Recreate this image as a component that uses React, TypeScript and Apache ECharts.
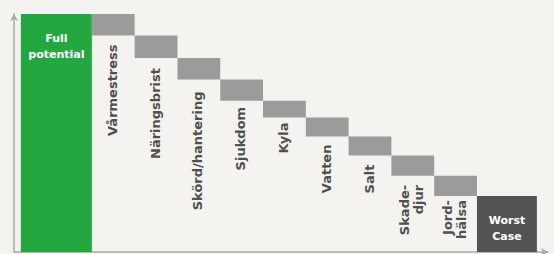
import React, { useEffect, useRef } from "react";
import * as echarts from "echarts";

// ---- data ----
const categories = [
  "Full\npotential",
  "Vårmestress",
  "Näringsbrist",
  "Skörd/hantering",
  "Sjukdom",
  "Kyla",
  "Vatten",
  "Salt",
  "Skade-\ndjur",
  "Jord-\nhälsa",
  "Worst\nCase",
];
const fullPotential = 100;
const losses = [9, 9.5, 9, 9, 7, 8, 8, 8.5, 8.5];

// ---- layout / style constants ----
const X_START = 0.16;
const FULL_W = 1.66;
const STEP_W = 1;
const WORST_W = 1.4;
const X_MAX = 12.48;
const LABEL_GAPS = [9, 10, 12, 6, 5, 8, 9, 9, 4];
const BG = "#f5f3ef";
const GREEN = "#22a83f";
const GRAY = "#9b9b9b";
const DARK = "#535353";
const TEXT = "#505050";
const AXIS = "#a9a9a9";
const FONT = "DejaVu Sans";

export default function App() {
  const ref = useRef<HTMLDivElement>(null);

  useEffect(() => {
    if (!ref.current) return;
    const chart = echarts.init(ref.current, null, { renderer: "svg" });

    // Build waterfall rows: [kind, x0, x1, yLow, yHigh, index]
    const rows: number[][] = [];
    let x = X_START;
    rows.push([0, x, x + FULL_W, 0, fullPotential, 0]);
    x += FULL_W;
    let level = fullPotential;
    losses.forEach((l, i) => {
      rows.push([1, x, x + STEP_W, level - l, level, i + 1]);
      x += STEP_W;
      level -= l;
    });
    rows.push([2, x, x + WORST_W, 0, level, categories.length - 1]);

    const renderItem = (params: any, api: any) => {
      const kind = api.value(0);
      const x0 = api.value(1);
      const x1 = api.value(2);
      const yLow = api.value(3);
      const yHigh = api.value(4);
      const idx = api.value(5);
      const p0 = api.coord([x0, yHigh]);
      const p1 = api.coord([x1, yLow]);
      const w = p1[0] - p0[0];
      const h = p1[1] - p0[1];
      const fill = kind === 0 ? GREEN : kind === 2 ? DARK : GRAY;
      const children: any[] = [
        {
          type: "rect",
          shape: { x: p0[0], y: p0[1], width: w, height: h },
          style: { fill },
        },
      ];
      const cx = p0[0] + w / 2;
      if (kind === 1) {
        children.push({
          type: "text",
          x: cx - 1,
          y: p1[1] + LABEL_GAPS[idx - 1],
          rotation: Math.PI / 2,
          style: {
            text: categories[idx],
            fill: TEXT,
            fontFamily: FONT,
            fontWeight: 700,
            fontSize: 13,
            lineHeight: 14,
            align: "right",
            verticalAlign: "middle",
          },
        });
      } else {
        children.push({
          type: "text",
          x: cx,
          y: p0[1] + 16,
          style: {
            text: categories[idx],
            fill: "#ffffff",
            fontFamily: FONT,
            fontWeight: 700,
            fontSize: 11,
            lineHeight: 16,
            align: "center",
            verticalAlign: "top",
          },
        });
      }
      return { type: "group", children };
    };

    chart.setOption({
      animation: false,
      backgroundColor: BG,
      grid: { left: 14, right: 6, top: 14, bottom: 2 },
      xAxis: {
        type: "value",
        min: 0,
        max: X_MAX,
        axisLine: {
          show: true,
          symbol: ["none", "arrow"],
          symbolSize: [6, 7],
          lineStyle: { color: AXIS, width: 1.5 },
        },
        axisTick: { show: false },
        axisLabel: { show: false },
        splitLine: { show: false },
      },
      yAxis: {
        type: "value",
        min: 0,
        max: 100,
        axisLine: {
          show: true,
          symbol: ["none", "arrow"],
          symbolSize: [6, 7],
          lineStyle: { color: AXIS, width: 1.5 },
        },
        axisTick: { show: false },
        axisLabel: { show: false },
        splitLine: { show: false },
      },
      series: [
        {
          type: "custom",
          silent: true,
          renderItem,
          encode: { x: [1, 2], y: [3, 4] },
          data: rows,
        },
      ],
    });

    return () => chart.dispose();
  }, []);

  return (
    <div
      ref={ref}
      style={{ position: "fixed", left: 0, top: 0, width: 554, height: 254, background: BG }}
    />
  );
}
